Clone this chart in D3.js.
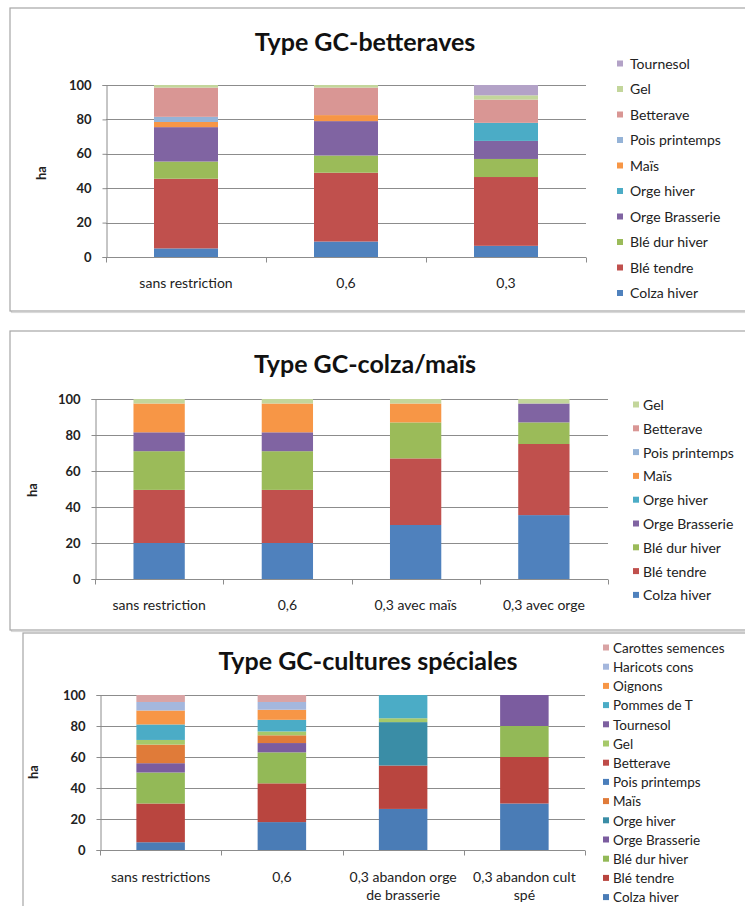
<!DOCTYPE html>
<html><head><meta charset="utf-8">
<script src="https://cdn.jsdelivr.net/npm/d3@7"></script>
<style>body{margin:0;background:#fff;overflow:hidden}</style>
</head><body><svg id="c" width="745" height="906"></svg>
<script>
// ---------- shared ----------
const seriesNames = ["Colza hiver","Blé tendre","Blé dur hiver","Orge Brasserie","Orge hiver","Maïs","Pois printemps","Betterave","Gel","Tournesol","Pommes de T","Oignons","Haricots cons","Carottes semences"];
const yTicks = [0, 20, 40, 60, 80, 100];
const yLabel = "ha";

// ---------- chart 1 : Type GC-betteraves ----------
const title1 = "Type GC-betteraves";
const cats1 = ["sans restriction", "0,6", "0,3"];
const bet_colza      = [5, 9, 6.5];
const bet_bleTendre  = [40.5, 40, 40];
const bet_bleDur     = [10, 10, 10.5];
const bet_orgeBrass  = [20, 20, 10.5];
const bet_orgeHiver  = [0, 0, 10.5];
const bet_mais       = [3, 3.5, 0];
const bet_pois       = [3, 0, 0];
const bet_betterave  = [17, 16, 13.5];
const bet_gel        = [1.5, 1.5, 2.5];
const bet_tournesol  = [0, 0, 6];

// ---------- chart 2 : Type GC-colza/maïs ----------
const title2 = "Type GC-colza/maïs";
const cats2 = ["sans restriction", "0,6", "0,3 avec maïs", "0,3 avec orge"];
const cm_colza      = [20, 20, 30, 35.5];
const cm_bleTendre  = [29.5, 29.5, 37, 39.5];
const cm_bleDur     = [21.5, 21.5, 20, 12];
const cm_orgeBrass  = [10.5, 10.5, 0, 10.5];
const cm_orgeHiver  = [0, 0, 0, 0];
const cm_mais       = [16, 16, 10.5, 0];
const cm_pois       = [0, 0, 0, 0];
const cm_betterave  = [0, 0, 0, 0];
const cm_gel        = [2.5, 2.5, 2.5, 2.5];

// ---------- chart 3 : Type GC-cultures spéciales ----------
const title3 = "Type GC-cultures spéciales";
const cats3 = ["sans restrictions", "0,6", "0,3 abandon orge\nde brasserie", "0,3 abandon cult\nspé"];
const cs_colza      = [5, 18, 26.5, 30];
const cs_bleTendre  = [25, 25, 28, 30];
const cs_bleDur     = [20, 20, 0, 20];
const cs_orgeBrass  = [6, 6, 0, 20];
const cs_orgeHiver  = [0, 0, 28, 0];
const cs_mais       = [12, 5, 0, 0];
const cs_pois       = [0, 0, 0, 0];
const cs_betterave  = [0, 0, 0, 0];
const cs_gel        = [3, 2.5, 2.5, 0];
const cs_tournesol  = [0, 0, 0, 0];
const cs_pommes     = [10, 7.5, 15, 0];
const cs_oignons    = [9, 6.5, 0, 0];
const cs_haricots   = [5.5, 5, 0, 0];
const cs_carottes   = [4.5, 4.5, 0, 0];

// ---------- colours ----------
const colors12 = ["#4F81BD","#C0504D","#9BBB59","#8064A2","#4BACC6","#F79646","#95B3D7","#D99694","#C3D69B","#B3A2C7"];
const colors3  = ["#4A7CB6","#B9453F","#93B957","#7B5C9F","#3A8DA6","#E07B39","#4A7EBB","#BE4B48","#A6C96A","#7D60A0","#4BACC6","#F79646","#A4B7DD","#D9A3A4"];

const FONT = "Lato, 'Open Sans', 'Liberation Sans', sans-serif";
const svg = d3.select("#c");

function drawChart(cfg) {
  const g = svg.append("g");
  // panel frame
  g.append("rect")
    .attr("x", cfg.panel.x + 1.5).attr("y", cfg.panel.y + 1.5)
    .attr("width", cfg.panel.w).attr("height", cfg.panel.h)
    .attr("fill", "none").attr("stroke", "#D9D9D9").attr("stroke-width", 1.2);
  g.append("rect")
    .attr("x", cfg.panel.x).attr("y", cfg.panel.y)
    .attr("width", cfg.panel.w).attr("height", cfg.panel.h)
    .attr("fill", "#fff").attr("stroke", "#A6A6A6").attr("stroke-width", 1.2);

  const x = d3.scaleBand().domain(cfg.cats).range([cfg.left, cfg.right])
    .paddingInner(0.6).paddingOuter(0.3);
  const y = d3.scaleLinear().domain([0, 100]).range([cfg.bottom, cfg.top]);

  // gridlines
  g.append("g").selectAll("line").data(yTicks.slice(1)).join("line")
    .attr("x1", cfg.left).attr("x2", cfg.right)
    .attr("y1", d => Math.round(y(d)) + 0.5).attr("y2", d => Math.round(y(d)) + 0.5)
    .attr("stroke", "#8C8C8C").attr("stroke-width", 1);

  // stacked bars
  const rows = cfg.cats.map((c, i) => {
    const o = { cat: c };
    cfg.series.forEach((s, k) => { o[k] = s[i]; });
    return o;
  });
  const keys = cfg.series.map((_, k) => k);
  const stacked = d3.stack().keys(keys)(rows);
  g.append("g").selectAll("g").data(stacked).join("g")
    .attr("fill", d => cfg.colors[d.key])
    .selectAll("rect").data(d => d).join("rect")
    .attr("x", d => x(d.data.cat))
    .attr("width", x.bandwidth())
    .attr("y", d => y(d[1]))
    .attr("height", d => Math.max(0, y(d[0]) - y(d[1])));

  // y axis
  const ya = g.append("g").attr("transform", `translate(${cfg.left + 0.5},0)`)
    .call(d3.axisLeft(y).tickValues(yTicks).tickSize(4).tickPadding(11).tickFormat(d3.format("d")));
  ya.select(".domain").attr("stroke", "#8C8C8C");
  ya.selectAll(".tick line").attr("stroke", "#8C8C8C");
  ya.selectAll(".tick text").attr("font-family", FONT).attr("font-size", 13)
    .attr("fill", "#222").attr("font-weight", "bold");

  // x axis line + category-boundary ticks
  const base = Math.round(y(0)) + 0.5;
  g.append("line").attr("x1", cfg.left).attr("x2", cfg.right)
    .attr("y1", base).attr("y2", base).attr("stroke", "#8C8C8C");
  const step = x.step();
  const x0 = x.range()[0];
  g.append("g").selectAll("line").data(d3.range(cfg.cats.length + 1)).join("line")
    .attr("x1", k => Math.round(x0 + k * step) + 0.5).attr("x2", k => Math.round(x0 + k * step) + 0.5)
    .attr("y1", base).attr("y2", base + 5).attr("stroke", "#8C8C8C");

  // x labels
  const xl = g.append("g").selectAll("text").data(cfg.cats).join("text")
    .attr("x", d => x(d) + x.bandwidth() / 2)
    .attr("y", cfg.labelY)
    .attr("text-anchor", "middle")
    .attr("font-family", FONT).attr("font-size", 14).attr("fill", "#222");
  xl.selectAll("tspan").data(d => d.split("\n")).join("tspan")
    .attr("x", function () { return d3.select(this.parentNode).attr("x"); })
    .attr("dy", (d, i) => i === 0 ? 0 : 18)
    .text(d => d);

  // y label
  g.append("text").attr("transform", `translate(${cfg.yLabelX},${cfg.yLabelY}) rotate(-90)`)
    .attr("text-anchor", "middle").attr("font-family", FONT).attr("font-size", 13)
    .attr("font-weight", "bold").attr("fill", "#222").text(yLabel);

  // title
  g.append("text").attr("x", cfg.titleX).attr("y", cfg.titleY)
    .attr("text-anchor", "middle").attr("font-family", FONT)
    .attr("font-size", cfg.titleSize).attr("font-weight", "bold").attr("fill", "#111")
    .text(cfg.title);

  // legend (reverse order, top = last series)
  const leg = cfg.legendKeys.slice().reverse();
  const lg = g.append("g").selectAll("g").data(leg).join("g")
    .attr("transform", (k, i) => `translate(${cfg.legendX},${cfg.legendY + i * cfg.legendStep})`);
  lg.append("rect").attr("x", 0).attr("y", -3.5).attr("width", 6).attr("height", 6)
    .attr("fill", k => cfg.colors[k]);
  lg.append("text").attr("x", cfg.legendTextDx).attr("y", 0).attr("dy", "0.35em")
    .attr("font-family", FONT).attr("font-size", cfg.legendSize).attr("fill", "#222")
    .text(k => seriesNames[k]);
}

drawChart({
  title: title1, cats: cats1,
  series: [bet_colza, bet_bleTendre, bet_bleDur, bet_orgeBrass, bet_orgeHiver, bet_mais, bet_pois, bet_betterave, bet_gel, bet_tournesol],
  colors: colors12, legendKeys: d3.range(10),
  panel: { x: 10, y: 8, w: 745, h: 303 },
  left: 106, right: 586, top: 85, bottom: 257,
  labelY: 288, yLabelX: 46, yLabelY: 173,
  titleX: 365, titleY: 51, titleSize: 25,
  legendX: 617, legendY: 64, legendStep: 25.5, legendTextDx: 13, legendSize: 14
});

drawChart({
  title: title2, cats: cats2,
  series: [cm_colza, cm_bleTendre, cm_bleDur, cm_orgeBrass, cm_orgeHiver, cm_mais, cm_pois, cm_betterave, cm_gel],
  colors: colors12, legendKeys: d3.range(9),
  panel: { x: 10, y: 331, w: 745, h: 299 },
  left: 95, right: 608, top: 399, bottom: 579,
  labelY: 610, yLabelX: 37, yLabelY: 490,
  titleX: 365, titleY: 373, titleSize: 25,
  legendX: 633, legendY: 405, legendStep: 23.8, legendTextDx: 10, legendSize: 14
});

drawChart({
  title: title3, cats: cats3,
  series: [cs_colza, cs_bleTendre, cs_bleDur, cs_orgeBrass, cs_orgeHiver, cs_mais, cs_pois, cs_betterave, cs_gel, cs_tournesol, cs_pommes, cs_oignons, cs_haricots, cs_carottes],
  colors: colors3, legendKeys: d3.range(14),
  panel: { x: 23, y: 633, w: 745, h: 290 },
  left: 100, right: 585, top: 695, bottom: 850,
  labelY: 882, yLabelX: 38, yLabelY: 772,
  titleX: 368, titleY: 670, titleSize: 25,
  legendX: 603, legendY: 648, legendStep: 19.2, legendTextDx: 10, legendSize: 13.5
});
</script>
</body></html>
